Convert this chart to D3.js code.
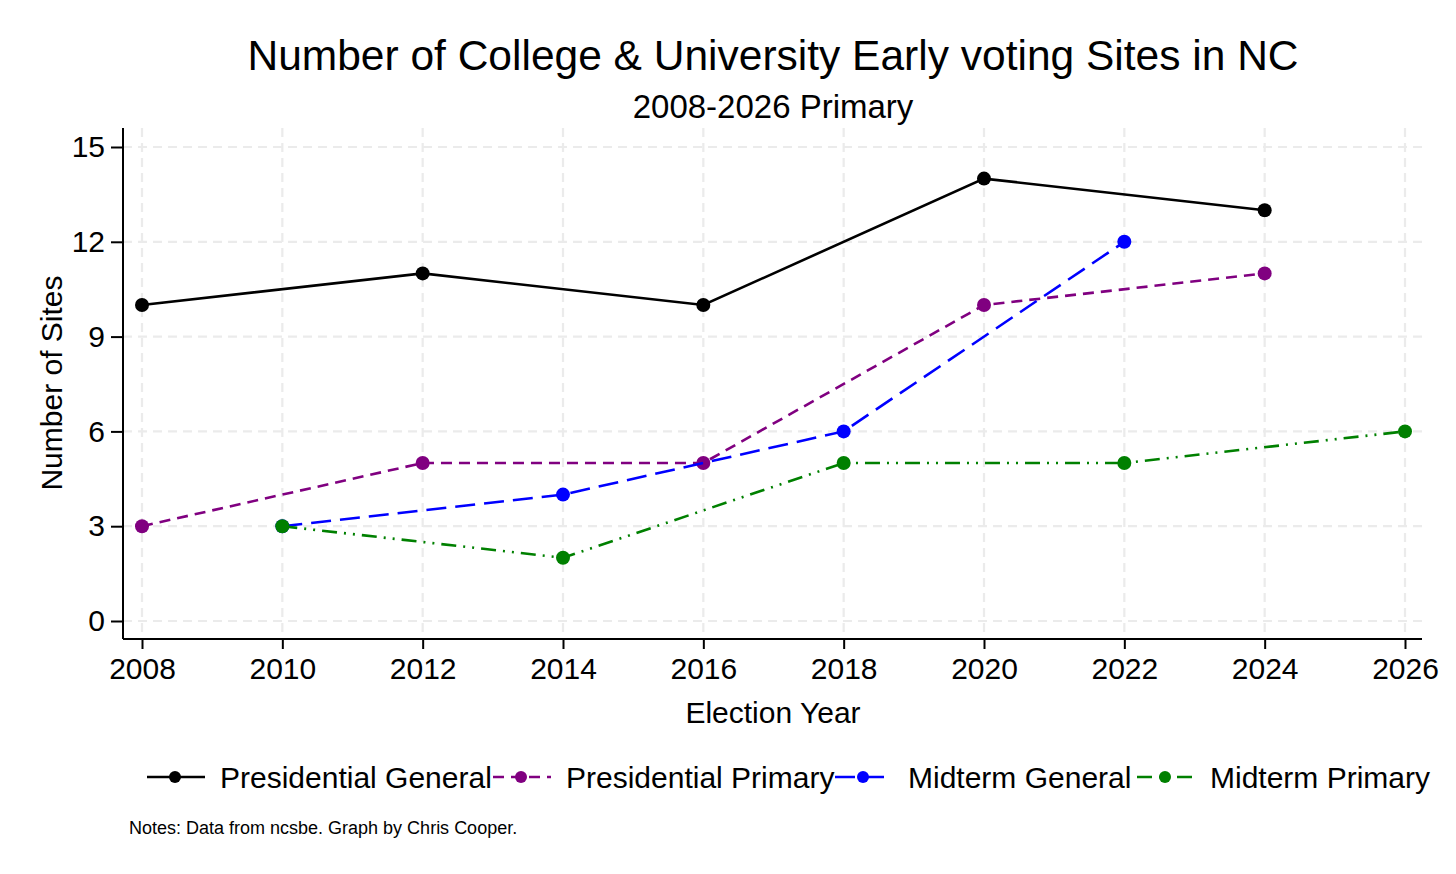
<!DOCTYPE html>
<html>
<head>
<meta charset="utf-8">
<script src="https://cdn.jsdelivr.net/npm/d3@7"></script>
<style>
  body { margin: 0; background: #fff; }
  text { font-family: "Liberation Sans", Arial, sans-serif; fill: #000; }
</style>
</head>
<body>
<div id="chart"></div>
<script>
// data
const years = [2008, 2010, 2012, 2014, 2016, 2018, 2020, 2022, 2024, 2026];
const yTicks = [0, 3, 6, 9, 12, 15];
const presGeneral = [[2008, 10], [2012, 11], [2016, 10], [2020, 14], [2024, 13]];
const presPrimary = [[2008, 3], [2012, 5], [2016, 5], [2020, 10], [2024, 11]];
const midGeneral = [[2010, 3], [2014, 4], [2018, 6], [2022, 12]];
const midPrimary = [[2010, 3], [2014, 2], [2018, 5], [2022, 5], [2026, 6]];
const seriesNames = ["Presidential General", "Presidential Primary", "Midterm General", "Midterm Primary"];

const series = [
    { name: seriesNames[0], values: presGeneral, color: "#000000", dash: null },
    { name: seriesNames[1], values: presPrimary, color: "#800080", dash: "11,7" },
    { name: seriesNames[2], values: midGeneral, color: "#0000ff", dash: "20,9" },
    { name: seriesNames[3], values: midPrimary, color: "#008000", dash: "15,7,2,7,2,7" }
];

const W = 1456, H = 874;
const svg = d3.select("#chart").append("svg").attr("width", W).attr("height", H);

const x = d3.scaleLinear().domain([2008, 2026]).range([142, 1405]);
const y = d3.scaleLinear().domain([0, 15]).range([621, 147]);
const plotL = 123, plotR = 1422, plotT = 128, plotB = 639;

// grid
const grid = svg.append("g");
grid.selectAll(".gy").data(yTicks).join("line")
    .attr("x1", plotL).attr("x2", plotR)
    .attr("y1", d => y(d)).attr("y2", d => y(d))
    .attr("stroke", "#ebebeb").attr("stroke-width", 2.2).attr("stroke-dasharray", "9,6");
grid.selectAll(".gx").data(years).join("line")
    .attr("x1", d => x(d)).attr("x2", d => x(d))
    .attr("y1", plotT).attr("y2", plotB)
    .attr("stroke", "#ebebeb").attr("stroke-width", 2.2).attr("stroke-dasharray", "9,6");

// axes
const xAxis = svg.append("g").attr("transform", `translate(0,${plotB})`)
    .call(d3.axisBottom(x).tickValues(years).tickFormat(d3.format("d")).tickSize(10).tickPadding(9));
xAxis.select(".domain").attr("d", `M${plotL},0H${plotR}`);
const yAxis = svg.append("g").attr("transform", `translate(${plotL},0)`)
    .call(d3.axisLeft(y).tickValues(yTicks).tickSize(12).tickPadding(6));
yAxis.select(".domain").attr("d", `M0,${plotT}V${plotB}`);
svg.selectAll(".domain").attr("stroke", "#000").attr("stroke-width", 2);
svg.selectAll(".tick line").attr("stroke", "#000").attr("stroke-width", 2);
svg.selectAll(".tick text").style("font-size", "30px").style("font-family", "Liberation Sans, Arial, sans-serif");

// lines
const line = d3.line().x(d => x(d[0])).y(d => y(d[1]));
series.forEach(s => {
    svg.append("path").datum(s.values)
        .attr("d", line)
        .attr("fill", "none")
        .attr("stroke", s.color)
        .attr("stroke-width", 2.6)
        .attr("stroke-dasharray", s.dash);
    svg.selectAll(null).data(s.values).join("circle")
        .attr("cx", d => x(d[0])).attr("cy", d => y(d[1]))
        .attr("r", 7).attr("fill", s.color);
});

// titles
svg.append("text").attr("x", 773).attr("y", 70).attr("text-anchor", "middle")
    .style("font-size", "42.5px").text("Number of College & University Early voting Sites in NC");
svg.append("text").attr("x", 773).attr("y", 118).attr("text-anchor", "middle")
    .style("font-size", "33px").text("2008-2026 Primary");
svg.append("text").attr("x", 773).attr("y", 723).attr("text-anchor", "middle")
    .style("font-size", "30px").text("Election Year");
svg.append("text").attr("transform", "translate(62,383) rotate(-90)").attr("text-anchor", "middle")
    .style("font-size", "30px").text("Number of Sites");

// legend
const legendX = [147, 493, 835, 1137];
const leg = svg.append("g");
series.forEach((s, i) => {
    const g = leg.append("g").attr("transform", `translate(${legendX[i]},777)`);
    g.append("line").attr("x1", 0).attr("x2", 58).attr("y1", 0).attr("y2", 0)
        .attr("stroke", s.color).attr("stroke-width", 2.6).attr("stroke-dasharray", s.dash);
    g.append("circle").attr("cx", 28).attr("cy", 0).attr("r", 6).attr("fill", s.color);
    g.append("text").attr("x", 73).attr("y", 11).style("font-size", "30px").text(s.name);
});

svg.append("text").attr("x", 129).attr("y", 834).style("font-size", "18px")
    .text("Notes: Data from ncsbe. Graph by Chris Cooper.");
</script>
</body>
</html>
